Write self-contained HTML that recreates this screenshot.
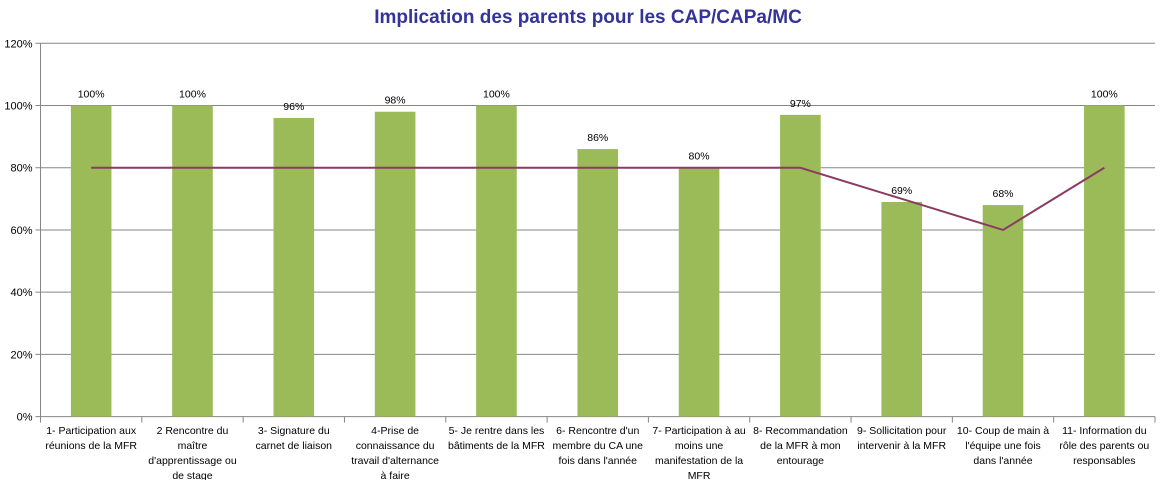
<!DOCTYPE html>
<html><head><meta charset="utf-8"><style>
body{margin:0;background:#fff;width:1161px;height:480px;overflow:hidden;font-family:"Liberation Sans",sans-serif}
</style></head><body>
<svg id="c" width="1161" height="480">
<text x="588" y="23" text-anchor="middle" font-size="19" font-weight="bold" fill="#333399">Implication des parents pour les CAP/CAPa/MC</text>
<g id="g"></g>
</svg>
<script>
const categories=[["1- Participation aux","réunions de la MFR"],["2 Rencontre du","maître","d'apprentissage ou","de stage"],["3- Signature du","carnet de liaison"],["4-Prise de","connaissance du","travail d'alternance","à faire"],["5- Je rentre dans les","bâtiments de la MFR"],["6- Rencontre d'un","membre du CA une","fois dans l'année"],["7- Participation à au","moins une","manifestation de la","MFR"],["8- Recommandation","de la MFR à mon","entourage"],["9- Sollicitation pour","intervenir à la MFR"],["10- Coup de main à","l'équipe une fois","dans l'année"],["11- Information du","rôle des parents ou","responsables"]];
const barValues=[100,100,96,98,100,86,80,97,69,68,100];
const lineValues=[80,80,80,80,80,80,80,80,70,60,80];
const yTicks=[0,20,40,60,80,100,120];
const NS="http://www.w3.org/2000/svg",g=document.getElementById('g');
const x0=40.5,x1=1155,yb=416.6,yt=43.3,n=categories.length,cw=(x1-x0)/n;
const y=v=>yb-(v/120)*(yb-yt);
const cx=i=>x0+cw*(i+0.5);
function mk(t,a){const e=document.createElementNS(NS,t);for(const k in a)e.setAttribute(k,a[k]);g.appendChild(e);return e;}
yTicks.forEach(v=>{
 const l=mk('line',{x1:x0,x2:x1,y1:y(v),y2:y(v),stroke:v===0?'#868686':'#868686','stroke-width':1});
 
 
 mk('line',{x1:x0-5,x2:x0,y1:y(v),y2:y(v),stroke:'#868686'});
 const t=mk('text',{x:x0-8,y:y(v)+4,'text-anchor':'end','font-size':11,fill:'#000'});
 t.textContent=v+'%';
 
 
});
mk('line',{x1:x0,x2:x0,y1:yt,y2:yb,stroke:'#868686'});
for(let i=0;i<=n;i++)mk('line',{x1:x0+cw*i,x2:x0+cw*i,y1:yb,y2:yb+6,stroke:'#868686'});
barValues.forEach((v,i)=>{
 const r=mk('rect',{x:cx(i)-20.3,y:y(v),width:40.6,height:yb-y(v),fill:'#9bbb59'});
 
 
 const t=mk('text',{x:cx(i),y:y(v)-8,'text-anchor':'middle','font-size':10.5,fill:'#000'});
 t.textContent=v+'%';
 
 
});
const p=mk('polyline',{points:lineValues.map((v,i)=>cx(i)+','+y(v)).join(' '),fill:'none',stroke:'#8b3a62','stroke-width':2});


categories.forEach((c,i)=>{
 c.forEach((s,j)=>{
  const t=mk('text',{x:cx(i),y:434+j*15,'text-anchor':'middle','font-size':10.5,fill:'#000'});
  t.textContent=s;
  
  
 });
});
</script>
</body></html>
